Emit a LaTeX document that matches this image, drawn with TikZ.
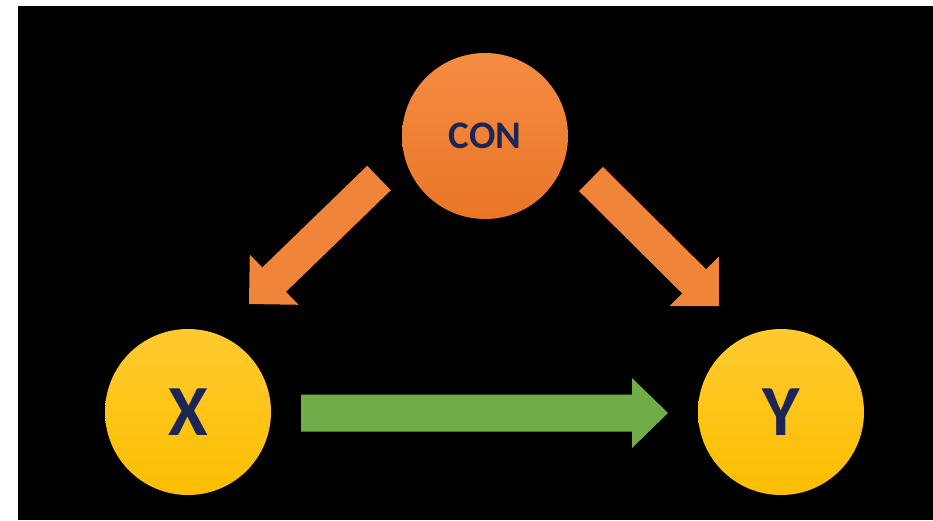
\documentclass[tikz,border=0pt]{standalone}
\usepackage{fontspec}
\setmainfont{Carlito}
\usetikzlibrary{calc}

\definecolor{conorange}{RGB}{234,118,38}
\definecolor{conorangelight}{RGB}{244,140,66}
\definecolor{arroworange}{RGB}{240,133,58}
\definecolor{gold}{RGB}{252,190,0}
\definecolor{goldlight}{RGB}{255,202,48}
\definecolor{leafgreen}{RGB}{112,173,71}
\definecolor{inknavy}{RGB}{28,38,86}

% Filled block arrow: #1 fill style, #2 tail, #3 tip,
% #4 half shaft width, #5 half head width, #6 head length
\newcommand{\blockarrow}[6]{%
  \coordinate (ba-h) at ($(#3)!#6!(#2)$);
  \fill[#1] ($(#2)!#4!90:(#3)$) -- ($(ba-h)!#4!-90:(#2)$)
    -- ($(ba-h)!#5!-90:(#2)$) -- (#3) -- ($(ba-h)!#5!90:(#2)$)
    -- ($(ba-h)!#4!90:(#2)$) -- ($(#2)!#4!-90:(#3)$) -- cycle;
}

\begin{document}
\begin{tikzpicture}[x=1pt,y=-1pt,
  var/.style={circle, inner sep=0pt, minimum size=166pt, text=inknavy,
    font=\bfseries\fontsize{72}{72}\selectfont},
  confounder/.style={var, top color=conorangelight, bottom color=conorange,
    font=\bfseries\fontsize{39}{40}\selectfont},
  outcome/.style={var, top color=goldlight, bottom color=gold},
  orangearrow/.style={fill=arroworange},
  greenarrow/.style={fill=leafgreen}]

  % page and dark panel
  \useasboundingbox (0,0) rectangle (933,520);
  \fill[white] (0,0) rectangle (933,520);
  \fill[black] (18,6) rectangle (933,520);

  % variables
  \node[confounder] (con) at (485,136) {CON};
  \node[outcome] (x) at (188,412) {X};
  \node[outcome] (y) at (781,412) {Y};

  % arrow ends
  \coordinate (conL) at (379,178);
  \coordinate (xTip) at (249,304);
  \coordinate (conR) at (591,179);
  \coordinate (yTip) at (719,306);
  \coordinate (xR) at (301,413);
  \coordinate (yL) at (668,413);

  \blockarrow{orangearrow}{conL}{xTip}{17pt}{35pt}{35pt}
  \blockarrow{orangearrow}{conR}{yTip}{17pt}{35pt}{35pt}
  \blockarrow{greenarrow}{xR}{yL}{18.5pt}{35pt}{36pt}
\end{tikzpicture}
\end{document}
